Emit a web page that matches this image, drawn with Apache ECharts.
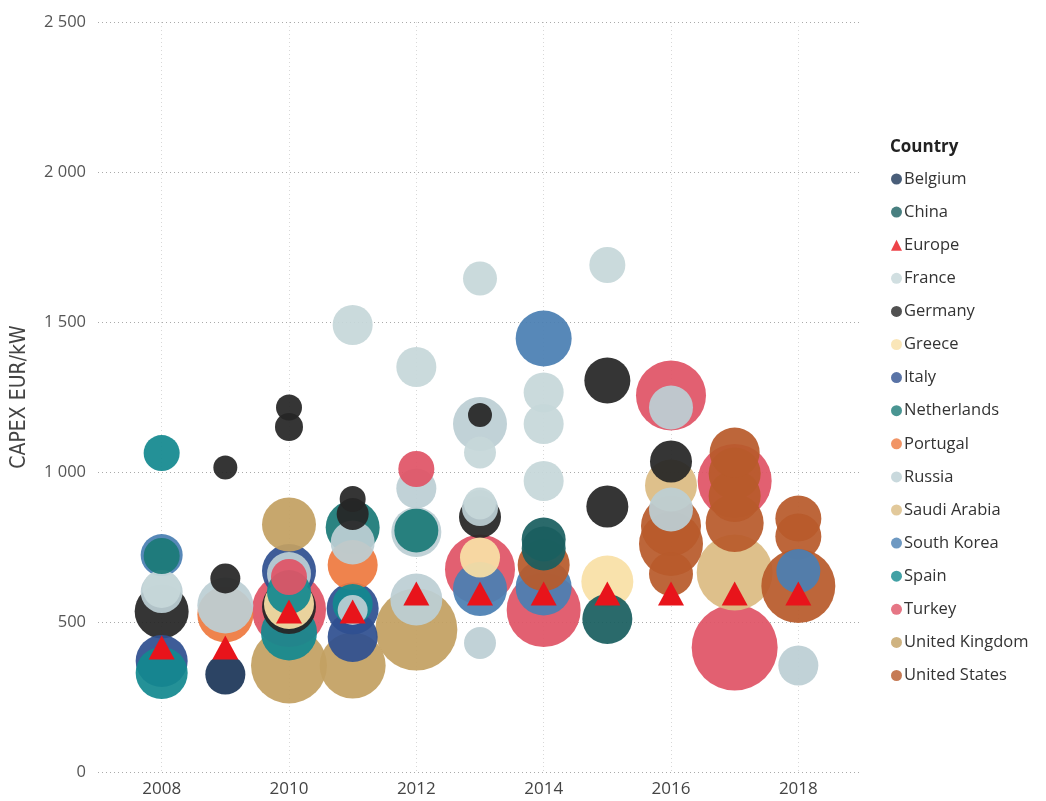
<!DOCTYPE html>
<html>
<head>
<meta charset="utf-8">
<script src="https://cdn.jsdelivr.net/npm/echarts@6/dist/echarts.min.js"></script>
<style>html,body{margin:0;padding:0;background:#fff}#c{width:1046px;height:801px}</style>
</head>
<body>
<div id="c"></div>
<script>
// ---- Data: [year, CAPEX EUR/kW, capacity (bubble size)] ----
const countries = ['Belgium','China','Europe','France','Germany','Greece','Italy','Netherlands','Portugal','Russia','Saudi Arabia','South Korea','Spain','Turkey','United Kingdom','United States'];

const belgium = [[2009,325,237]];
const china = [[2014,775,286],[2014,745,286],[2015,510,370]];
const europe = [[2008,415],[2009,415],[2010,535],[2011,535],[2012,595],[2013,595],[2014,595],[2015,595],[2016,595],[2017,595],[2018,595]];
const france = [[2008,610,214],[2011,1490,237],[2012,1350,237],[2013,1645,171],[2013,1065,151],[2013,895,151],[2014,1265,237],[2014,1160,237],[2014,970,237],[2015,1690,192]];
const germany = [[2008,535,431],[2009,1015,85],[2009,645,133],[2010,1215,100],[2010,1150,116],[2010,550,431],[2011,910,100],[2011,860,151],[2013,1190,85],[2013,850,261],[2015,1305,313],[2015,885,261],[2016,1035,261]];
const greece = [[2010,560,370],[2013,715,237],[2015,635,400]];
const italy = [[2008,370,400],[2010,670,431],[2011,545,400],[2011,450,370]];
const netherlands = [[2008,720,192],[2011,815,431],[2012,805,286]];
const portugal = [[2009,525,464],[2011,690,370]];
const russia = [[2008,600,261],[2009,555,464],[2010,660,286],[2011,765,286],[2011,540,133],[2012,945,237],[2012,800,370],[2012,575,400],[2013,1160,431],[2013,880,192],[2013,430,151],[2016,1215,286],[2016,875,286],[2018,355,237]];
const saudiArabia = [[2016,955,400],[2017,665,854]];
const southKorea = [[2008,723,261],[2013,610,431],[2014,1445,464],[2014,615,464],[2018,670,286]];
const spain = [[2008,1063,192],[2008,330,400],[2010,600,286],[2010,465,464],[2011,560,237]];
const turkey = [[2010,540,810],[2010,650,192],[2012,1010,192],[2013,675,725],[2014,540,810],[2016,1255,725],[2017,970,810],[2017,415,1094]];
const unitedKingdom = [[2010,825,431],[2010,355,854],[2011,355,644],[2012,475,995]];
const unitedStates = [[2014,690,400],[2016,820,533],[2016,760,606],[2016,660,286],[2017,1065,370],[2017,995,400],[2017,920,400],[2017,830,498],[2018,845,313],[2018,785,313],[2018,620,810]];

const yTicks = [0,500,1000,1500,2000,2500];
const xTickYears = [2008,2010,2012,2014,2016,2018];

const colors = {
  'Belgium':'#1c3658','China':'#1a5f60','Europe':'#e8141b','France':'#c6d7d9','Germany':'#262626',
  'Greece':'#f9e0a6','Italy':'#2f5090','Netherlands':'#1b7a77','Portugal':'#ee7a40','Russia':'#bccfd4',
  'Saudi Arabia':'#dbbb82','South Korea':'#4a7fb3','Spain':'#13898f','Turkey':'#e05466',
  'United Kingdom':'#c3a062','United States':'#b85a2b'
};
const byCountry = {
  'Belgium':belgium,'China':china,'France':france,'Germany':germany,'Greece':greece,'Italy':italy,
  'Netherlands':netherlands,'Portugal':portugal,'Russia':russia,'Saudi Arabia':saudiArabia,
  'South Korea':southKorea,'Spain':spain,'Turkey':turkey,'United Kingdom':unitedKingdom,'United States':unitedStates
};

// Combine bubbles, larger drawn first so smaller sit on top
let bubbles = [];
Object.keys(byCountry).forEach(function(c){
  byCountry[c].forEach(function(p){ bubbles.push({value:p, name:c, itemStyle:{color:colors[c]}}); });
});
bubbles.sort(function(a,b){ return b.value[2]-a.value[2]; });

const font = '"Open Sans", "Noto Sans", sans-serif';

const legendSeries = countries.map(function(c){
  return {name:c, type:'scatter', data:[], symbol: c==='Europe'?'triangle':'circle', itemStyle:{color:colors[c]}};
});

const chart = echarts.init(document.getElementById('c'), null, {renderer:'canvas'});
chart.setOption({
  animation:false,
  backgroundColor:'#ffffff',
  title:{text:'Country', left:885, top:134, textStyle:{fontFamily:font, fontSize:17, fontWeight:'bold', color:'#222'}},
  legend:{
    orient:'vertical', left:886, top:165, itemWidth:11, itemHeight:11, itemGap:15.1,
    textStyle:{fontFamily:font, fontSize:16.5, color:'#333', lineHeight:18, padding:[0,0,0,-3]},
    data: countries.map(function(c){ return {name:c, icon: c==='Europe'?'triangle':'circle'}; }),
    selectedMode:false
  },
  grid:{left:98, right:184, top:22, bottom:29},
  xAxis:{
    type:'value', min:2007, max:2019, interval:1,
    axisLine:{show:false}, axisTick:{show:false},
    axisLabel:{fontFamily:font, fontSize:17, color:'#444', margin:9,
      formatter:function(v){ return xTickYears.indexOf(v)>=0 ? String(v) : ''; }},
    splitLine:{show:true, lineStyle:{type:[1,3], color:['rgba(0,0,0,0)','#d8d8d8'], width:1}}
  },
  yAxis:{
    type:'value', min:yTicks[0], max:yTicks[yTicks.length-1], interval:500,
    name:'CAPEX EUR/kW', nameLocation:'middle', nameGap:68, nameRotate:90,
    nameTextStyle:{fontFamily:'"DejaVu Sans Condensed", "Liberation Sans Narrow", sans-serif', fontSize:21, color:'#444'},
    axisLine:{show:false}, axisTick:{show:false},
    axisLabel:{fontFamily:font, fontSize:16.5, color:'#555', margin:12,
      formatter:function(v){ return String(v).replace(/\B(?=(\d{3})+(?!\d))/g,' '); }},
    splitLine:{show:true, lineStyle:{type:[1,3], color:'#aaaaaa', width:1}}
  },
  series: legendSeries.concat([
    {name:'_bubbles', type:'scatter', data:bubbles, z:3,
     symbolSize:function(v){ return 2.6*Math.sqrt(v[2]); },
     itemStyle:{opacity:0.93}},
    {name:'_europe', type:'scatter', data:europe, z:5, symbol:'triangle', symbolSize:[26,24],
     itemStyle:{color:colors['Europe'], opacity:1}}
  ])
});
</script>
</body>
</html>
